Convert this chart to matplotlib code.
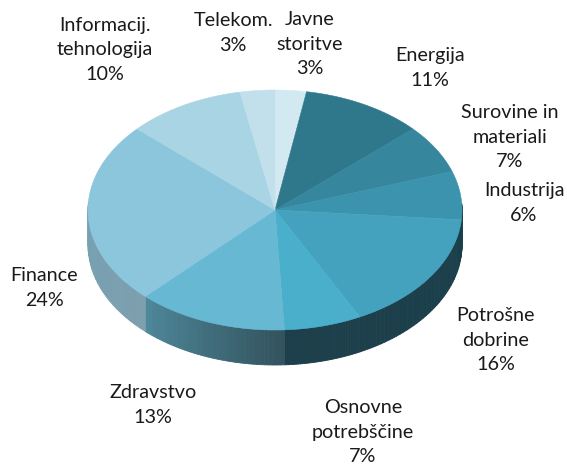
import numpy as np
import matplotlib
matplotlib.use("Agg")
import matplotlib.pyplot as plt
from matplotlib.colors import to_rgb
from matplotlib.patches import Polygon

# Sector shares, clockwise from the top (slice sizes,
# the labels carry the rounded numbers)
labels = ["Javne\nstoritve\n3%", "Energija\n11%", "Surovine in\nmateriali\n7%",
          "Industrija\n6%", "Potrošne\ndobrine\n16%", "Osnovne\npotrebščine\n7%",
          "Zdravstvo\n13%", "Finance\n24%", "Informacij.\ntehnologija\n10%",
          "Telekom.\n3%"]
shares = [2.7, 10.5, 6.6, 6.5, 16.2, 6.7, 13, 24.6, 10.2, 3]
top_colors = ["#d3e9f2", "#2f788c", "#36869e", "#3c93ae", "#45a2bf",
              "#4aafcb", "#67b8d3", "#8cc6dc", "#a9d4e4", "#c2e0ec"]
# side wall colour at the start and end of each slice
side_start = ["#1c4450", "#1c4450", "#1c4450", "#1c4450", "#1a3f4b",
              "#1c3f4b", "#33535e", "#7d9fae", "#8cc6dc", "#c2e0ec"]
side_end = ["#1c4450", "#1c4450", "#1c4450", "#1c4450", "#1c3f4b",
            "#1c3f4b", "#4d8799", "#6fa3b5", "#8cc6dc", "#c2e0ec"]
label_xy = [(310, 44), (430, 68), (510, 137), (524, 203), (496, 340),
            (363, 432), (153, 405), (44, 288), (105, 50), (233, 33)]

CX, CY, RX, RY, DEPTH = 275, 210, 187, 120, 35

fig = plt.figure(figsize=(5.67, 4.65), dpi=100)
ax = fig.add_axes([0, 0, 1, 1])
ax.set_xlim(0, 567)
ax.set_ylim(465, 0)
ax.axis("off")


def rim(t):
    return CX + RX * np.sin(t), CY - RY * np.cos(t)


edges = np.cumsum([0] + shares) / sum(shares) * 2 * np.pi

# side wall first, only the front half shows
for i in range(len(shares)):
    ts = np.linspace(edges[i], edges[i + 1], 40)
    c0, c1 = np.array(to_rgb(side_start[i])), np.array(to_rgb(side_end[i]))
    for j in range(len(ts) - 1):
        a, b = ts[j], ts[j + 1]
        if np.cos(a) > 0.05 and np.cos(b) > 0.05:
            continue
        xa, ya = rim(a)
        xb, yb = rim(b)
        f = j / (len(ts) - 2)
        col = c0 + (c1 - c0) * f
        ax.add_patch(Polygon([(xa, ya), (xb, yb), (xb, yb + DEPTH), (xa, ya + DEPTH)],
                             facecolor=col, edgecolor=col, lw=0.6, zorder=2))

# top face
for i in range(len(shares)):
    ts = np.linspace(edges[i], edges[i + 1], 80)
    xs, ys = rim(ts)
    pts = [(CX, CY)] + list(zip(xs, ys))
    ax.add_patch(Polygon(pts, facecolor=top_colors[i], edgecolor=top_colors[i],
                         lw=0.4, zorder=3))

for text, (x, y) in zip(labels, label_xy):
    ax.text(x, y, text, ha="center", va="center", family="Lato", fontsize=14.2,
            color="#1a1a1a", linespacing=1.55, zorder=4)

fig.savefig("out.png", dpi=100)
